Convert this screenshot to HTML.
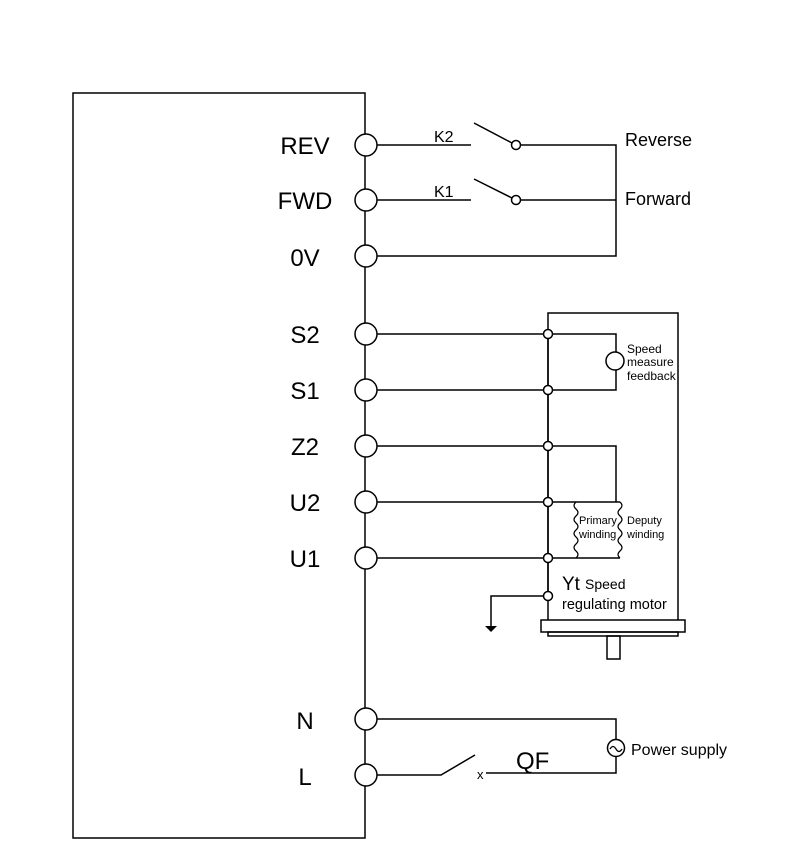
<!DOCTYPE html>
<html><head><style>body{margin:0;background:#fff}svg{display:block}</style></head><body>
<svg width="800" height="864" viewBox="0 0 800 864" xmlns="http://www.w3.org/2000/svg" font-family="Liberation Sans, Arial, sans-serif" fill="none" stroke="#000" stroke-width="1.5">
<rect x="73" y="93" width="292" height="745"/>
<g fill="#fff">
<circle cx="366" cy="145" r="11"/><circle cx="366" cy="200" r="11"/><circle cx="366" cy="256" r="11"/>
<circle cx="366" cy="334" r="11"/><circle cx="366" cy="390" r="11"/><circle cx="366" cy="446" r="11"/>
<circle cx="366" cy="502" r="11"/><circle cx="366" cy="558" r="11"/><circle cx="366" cy="719" r="11"/><circle cx="366" cy="775" r="11"/>
</g>
<g fill="#000" stroke="none" font-size="24" text-anchor="middle">
<text x="305" y="154">REV</text><text x="305" y="209">FWD</text><text x="305" y="266">0V</text>
<text x="305" y="343">S2</text><text x="305" y="399">S1</text><text x="305" y="455">Z2</text>
<text x="305" y="511">U2</text><text x="305" y="567">U1</text><text x="305" y="729">N</text><text x="305" y="785">L</text>
</g>
<path d="M377 145H471M474 123L512 143M520 145H616V256H377M377 200H471M474 179L512 198M520 200H616"/>
<circle cx="516" cy="145" r="4.5" fill="#fff"/><circle cx="516" cy="200" r="4.5" fill="#fff"/>
<g fill="#000" stroke="none" font-size="16">
<text x="434" y="142">K2</text><text x="434" y="197">K1</text>
<text x="625" y="146" font-size="18">Reverse</text><text x="625" y="205" font-size="18">Forward</text>
</g>
<path d="M548 620V313H678V620"/>
<path d="M377 334H616V352M616 370V390H377M377 446H616V502M377 502H620M377 558H620M548 334V596M548 596H491V626"/>
<polygon points="485,626 497,626 491,632" fill="#000" stroke="none"/>
<circle cx="615" cy="361" r="9" fill="#fff"/>
<path d="M576 502q-4 3.5 0 7t0 7t0 7t0 7t0 7t0 7t0 7t0 7" stroke-width="1.2"/>
<path d="M620 502q4 3.5 0 7t0 7t0 7t0 7t0 7t0 7t0 7t0 7" stroke-width="1.2"/>
<g fill="#fff">
<circle cx="548" cy="334" r="4.5"/><circle cx="548" cy="390" r="4.5"/><circle cx="548" cy="446" r="4.5"/>
<circle cx="548" cy="502" r="4.5"/><circle cx="548" cy="558" r="4.5"/><circle cx="548" cy="596" r="4.5"/>
</g>
<rect x="541" y="620" width="144" height="12" fill="#fff"/>
<rect x="548" y="632" width="130" height="4"/>
<rect x="607" y="636" width="13" height="23"/>
<g fill="#000" stroke="none" font-size="12">
<text x="627" y="353">Speed</text><text x="627" y="366">measure</text><text x="627" y="380">feedback</text>
<text x="579" y="524" font-size="11">Primary</text><text x="579" y="538" font-size="11">winding</text>
<text x="627" y="524" font-size="11">Deputy</text><text x="627" y="538" font-size="11">winding</text>
<text x="562" y="590" font-size="19">Yt</text><text x="585" y="589" font-size="14">Speed</text>
<text x="562" y="609" font-size="14.5">regulating motor</text>
</g>
<path d="M377 719H616V740M616 757V773H486M377 775H441L475 755"/>
<circle cx="616" cy="748" r="8.5" fill="#fff"/>
<path d="M610 749q3-5 6 0t6 0" stroke-width="1.3"/>
<g fill="#000" stroke="none">
<text x="477" y="779" font-size="13">x</text>
<text x="516" y="769" font-size="24">QF</text>
<text x="631" y="755" font-size="16">Power supply</text>
</g>
</svg>
</body></html>
